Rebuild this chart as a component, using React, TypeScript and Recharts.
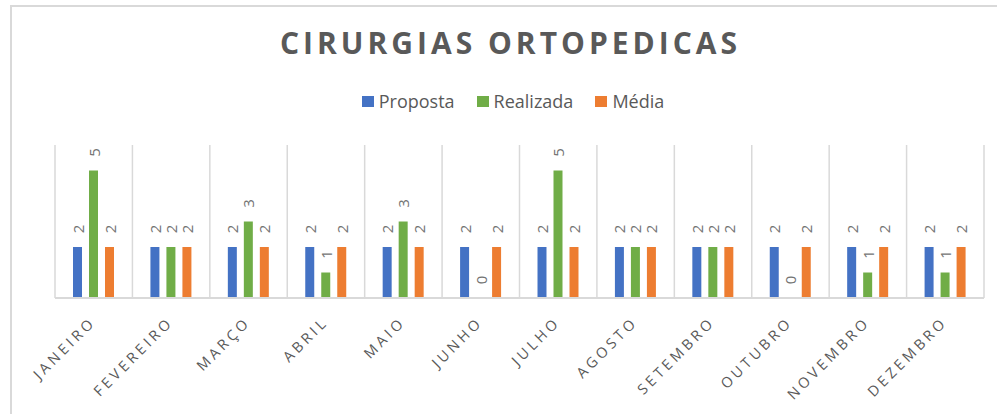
import { BarChart, Bar, XAxis, YAxis, CartesianGrid, LabelList } from "recharts";

// months on the category axis
const months = [
  "JANEIRO",
  "FEVEREIRO",
  "MARÇO",
  "ABRIL",
  "MAIO",
  "JUNHO",
  "JULHO",
  "AGOSTO",
  "SETEMBRO",
  "OUTUBRO",
  "NOVEMBRO",
  "DEZEMBRO",
];

const proposta = [2, 2, 2, 2, 2, 2, 2, 2, 2, 2, 2, 2];
const realizada = [5, 2, 3, 1, 3, 0, 5, 2, 2, 0, 1, 1];
const media = [2, 2, 2, 2, 2, 2, 2, 2, 2, 2, 2, 2];

const seriesNames = ["Proposta", "Realizada", "Média"];
const seriesKeys = ["proposta", "realizada", "media"];
const seriesColors = ["#4472C4", "#70AD47", "#ED7D31"];

const chartData = months.map((month, i) => ({
  month,
  proposta: proposta[i],
  realizada: realizada[i],
  media: media[i],
}));

const FONT = "'Open Sans', sans-serif";

const ValueLabel = (props: any) => {
  const { x, y, width, height, value } = props;
  const cx = Number(x) + Number(width) / 2;
  // top of the bar (height can be tiny for zero values)
  const top = Math.min(Number(y), Number(y) + Number(height));
  const cy = top - 18;
  return (
    <text
      x={cx}
      y={cy}
      transform={`rotate(-90 ${cx} ${cy})`}
      textAnchor="middle"
      dominantBaseline="central"
      fill="#737373"
      fontSize={15}
      fontFamily={FONT}
    >
      {value}
    </text>
  );
};

const MonthTick = (props: any) => {
  const { x, y, payload } = props;
  return (
    <g transform={`translate(${Number(x) + 3},${Number(y) + 25})`}>
      <text
        x={0}
        y={0}
        transform="rotate(-45)"
        textAnchor="end"
        fill="#595959"
        fontSize={14.5}
        letterSpacing={3.5}
        fontFamily={FONT}
      >
        {payload.value}
      </text>
    </g>
  );
};

export default function App() {
  // vertical lines sit between the months, not on them
  const gridX = ({ offset }: any) =>
    months.map((_, i) => offset.left + (offset.width / months.length) * i).concat(offset.left + offset.width);

  return (
    <div style={{ position: "absolute", left: 0, top: 0, width: 997, height: 414, overflow: "hidden", background: "#fff" }}>
      <div
        style={{
          position: "absolute",
          left: 10,
          top: 5,
          width: 1000,
          height: 430,
          border: "2px solid #d9d9d9",
        }}
      />
      <div
        style={{
          position: "absolute",
          left: 0,
          width: 1021,
          top: 28,
          textAlign: "center",
          fontFamily: FONT,
          fontWeight: 700,
          fontSize: 30,
          lineHeight: "30px",
          letterSpacing: 4,
          color: "#595959",
        }}
      >
        CIRURGIAS ORTOPEDICAS
      </div>
      <div
        style={{
          position: "absolute",
          left: 0,
          width: 1026,
          top: 90,
          display: "flex",
          justifyContent: "center",
          gap: 22,
          fontFamily: FONT,
          fontSize: 18,
          lineHeight: "22px",
          color: "#595959",
        }}
      >
        {seriesNames.map((name, i) => (
          <div key={name} style={{ display: "flex", alignItems: "center", gap: 5 }}>
            <span style={{ width: 12, height: 11, background: seriesColors[i], display: "inline-block" }} />
            <span>{name}</span>
          </div>
        ))}
      </div>
      <div style={{ position: "absolute", left: 0, top: 0 }}>
        <BarChart
          width={997}
          height={414}
          data={chartData}
          margin={{ top: 145, right: 13, bottom: 56, left: 55 }}
          barSize={9}
          barGap={7}
        >
          <CartesianGrid horizontal={false} stroke="#d9d9d9" strokeWidth={1.5} verticalCoordinatesGenerator={gridX} />
          <XAxis
            dataKey="month"
            interval={0}
            height={60}
            tickLine={false}
            tickSize={0}
            tickMargin={0}
            axisLine={{ stroke: "#d9d9d9", strokeWidth: 2 }}
            tick={<MonthTick />}
          />
          <YAxis hide domain={[0, 6]} />
          {seriesKeys.map((key, i) => (
            <Bar
              key={key}
              dataKey={key}
              name={seriesNames[i]}
              fill={seriesColors[i]}
              minPointSize={0.01}
              isAnimationActive={false}
            >
              <LabelList dataKey={key} content={<ValueLabel />} />
            </Bar>
          ))}
        </BarChart>
      </div>
    </div>
  );
}
